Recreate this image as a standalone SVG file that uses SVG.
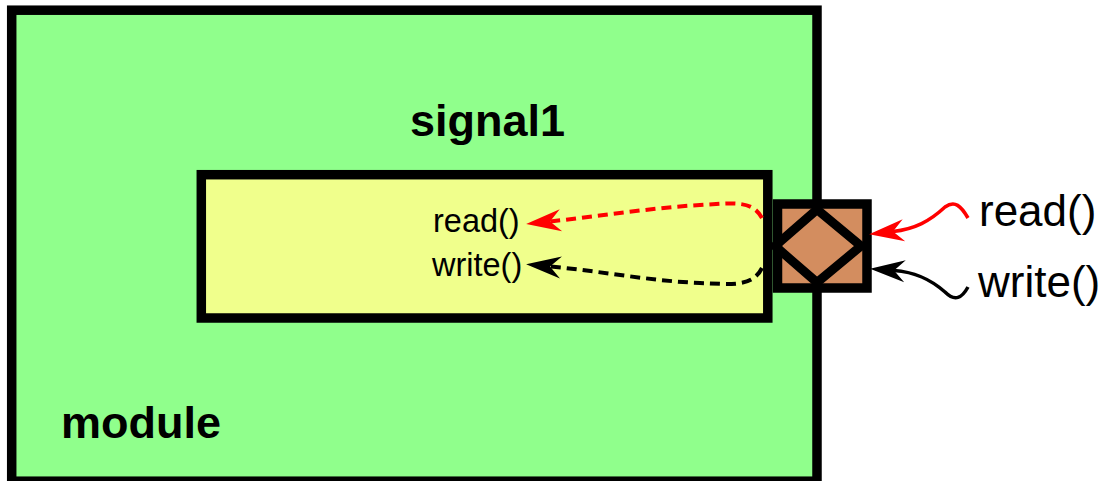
<svg xmlns="http://www.w3.org/2000/svg" width="1109" height="481" viewBox="0 0 1109 481">
<style>
.box{stroke:#000;stroke-width:9.5;stroke-linejoin:miter}
.bold{font-family:"Liberation Sans",Arial,sans-serif;font-weight:bold;font-size:45px;fill:#000}
.lbl{font-family:"Liberation Sans",Arial,sans-serif;font-size:44px;fill:#000}
.small{font-family:"Liberation Sans",Arial,sans-serif;font-size:32.5px;fill:#000}
.dash{fill:none;stroke-width:4;stroke-dasharray:10 6}
.solid{fill:none;stroke-width:3.5}
</style>
<defs>
<marker id="ahRed" markerUnits="userSpaceOnUse" orient="auto" markerWidth="1" markerHeight="1" refX="0" refY="0" overflow="visible">
<path d="M24,0 L-11,-11 L0,0 L-11,11 Z" fill="#f00"/>
</marker>
<marker id="ahBlack" markerUnits="userSpaceOnUse" orient="auto" markerWidth="1" markerHeight="1" refX="0" refY="0" overflow="visible">
<path d="M24,0 L-11,-11 L0,0 L-11,11 Z" fill="#000"/>
</marker>
</defs>
<g id="module">
<rect class="box" x="11.7" y="10.2" width="805.3" height="471" fill="#90ff8c"/>
<text class="bold" x="61" y="438">module</text>
</g>
<g id="signal1">
<rect class="box" x="201.3" y="174.7" width="566.5" height="143.3" fill="#f0ff8c"/>
<text class="bold" x="410" y="136">signal1</text>
<text class="small" x="433" y="232">read()</text>
<text class="small" x="432" y="276">write()</text>
</g>
<g id="port">
<rect class="box" x="777.5" y="204" width="89.5" height="84" fill="#d38d5f"/>
<path d="M817,209.5 L861,246 L817,282.5 L775,246 Z" fill="none" stroke="#000" stroke-width="9"/>
</g>
<g id="connectors">
<path class="dash" stroke="#f00" d="M762,218 C752,200 735,203 700,205 C650,208 600,216 550,221.5" marker-end="url(#ahRed)"/>
<path class="dash" stroke="#000" d="M762,268 C752,288 730,284 700,283 C650,281 600,271 550,266.5" marker-end="url(#ahBlack)"/>
<path class="solid" stroke="#f00" d="M968,218 C961,206 955,200 945,207 C930,221 915,229 893,231.5" marker-end="url(#ahRed)"/>
<path class="solid" stroke="#000" d="M968,287 C962,298 955,302 945,292 C930,279 915,272 894,270.5" marker-end="url(#ahBlack)"/>
</g>
<g id="labels">
<text class="lbl" x="979" y="226">read()</text>
<text class="lbl" x="978" y="297">write()</text>
</g>
</svg>
